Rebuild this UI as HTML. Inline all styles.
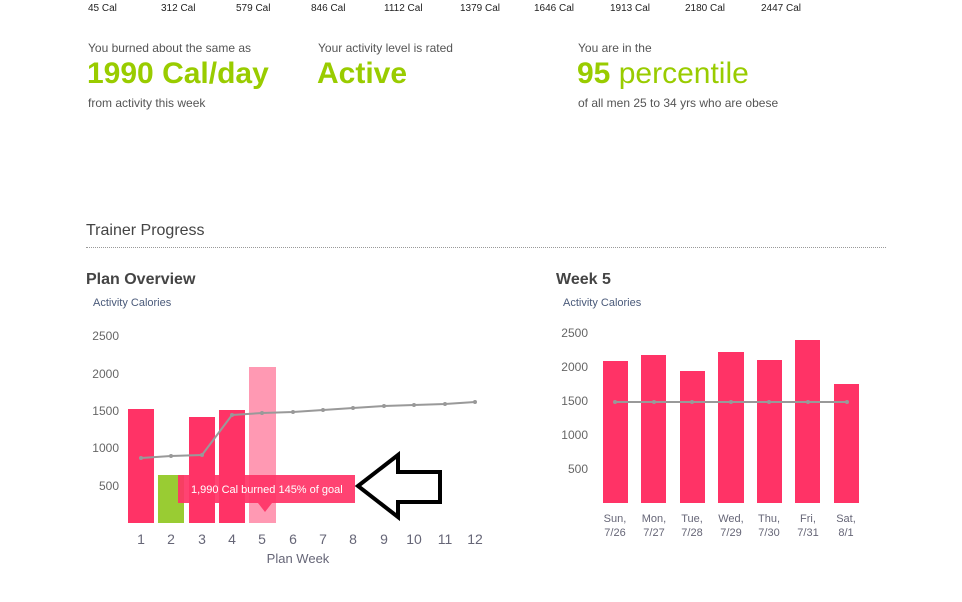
<!DOCTYPE html>
<html><head><meta charset="utf-8"><style>
body{margin:0;width:962px;height:602px;background:#fff;font-family:"Liberation Sans",Arial,sans-serif;position:relative;overflow:hidden}
.a{position:absolute;white-space:nowrap}
.s{font-size:12px;color:#555}
.big{font-size:30px;font-weight:bold;color:#99cc00}
.cal{font-size:10px;color:#222;top:3px}
</style></head><body>
<div class="a cal" style="left:88px">45 Cal</div>
<div class="a cal" style="left:161px">312 Cal</div>
<div class="a cal" style="left:236px">579 Cal</div>
<div class="a cal" style="left:311px">846 Cal</div>
<div class="a cal" style="left:384px">1112 Cal</div>
<div class="a cal" style="left:460px">1379 Cal</div>
<div class="a cal" style="left:534px">1646 Cal</div>
<div class="a cal" style="left:610px">1913 Cal</div>
<div class="a cal" style="left:685px">2180 Cal</div>
<div class="a cal" style="left:761px">2447 Cal</div>

<div class="a s" style="left:88px;top:41px">You burned about the same as</div>
<div class="a big" style="left:87px;top:57px">1990 Cal/day</div>
<div class="a s" style="left:88px;top:96px">from activity this week</div>
<div class="a s" style="left:318px;top:41px">Your activity level is rated</div>
<div class="a big" style="left:317px;top:57px">Active</div>
<div class="a s" style="left:578px;top:41px">You are in the</div>
<div class="a big" style="left:577px;top:57px">95 <span style="font-weight:normal">percentile</span></div>
<div class="a s" style="left:578px;top:96px">of all men 25 to 34 yrs who are obese</div>

<div class="a" style="left:86px;top:222px;font-size:16px;color:#444">Trainer Progress</div>
<div class="a" style="left:86px;top:247px;width:800px;border-top:1px dotted #999"></div>
<div class="a" style="left:86px;top:271px;font-size:16px;font-weight:bold;color:#444">Plan Overview</div>
<div class="a" style="left:93px;top:297px;font-size:11px;color:#4a5a7a">Activity Calories</div>
<div class="a" style="left:556px;top:271px;font-size:16px;font-weight:bold;color:#444">Week 5</div>
<div class="a" style="left:563px;top:297px;font-size:11px;color:#4a5a7a">Activity Calories</div>

<svg class="a" style="left:0;top:0" width="962" height="602" font-family="Liberation Sans,Arial,sans-serif">
<g font-size="12" fill="#666" text-anchor="end">
<text x="119" y="340">2500</text><text x="119" y="378">2000</text><text x="119" y="415">1500</text><text x="119" y="452">1000</text><text x="119" y="490">500</text>
<text x="588" y="337">2500</text><text x="588" y="371">2000</text><text x="588" y="405">1500</text><text x="588" y="439">1000</text><text x="588" y="473">500</text>
</g>
<rect x="128" y="409" width="26" height="114" fill="#ff3366"/>
<rect x="158" y="475" width="26" height="48" fill="#99cc33"/>
<rect x="189" y="417" width="26" height="106" fill="#ff3366"/>
<rect x="219" y="410" width="26" height="113" fill="#ff3366"/>
<rect x="249" y="367" width="27" height="156" fill="#ff99b3"/>
<polyline points="141,458 171,456 202,455 232,415 262,413 293,412 323,410 353,408 384,406 414,405 445,404 475,402" fill="none" stroke="#999" stroke-width="2"/>
<g fill="#999"><circle cx="141" cy="458" r="2"/><circle cx="171" cy="456" r="2"/><circle cx="202" cy="455" r="2"/><circle cx="232" cy="415" r="2"/><circle cx="262" cy="413" r="2"/><circle cx="293" cy="412" r="2"/><circle cx="323" cy="410" r="2"/><circle cx="353" cy="408" r="2"/><circle cx="384" cy="406" r="2"/><circle cx="414" cy="405" r="2"/><circle cx="445" cy="404" r="2"/><circle cx="475" cy="402" r="2"/></g>
<g font-size="14" fill="#667" text-anchor="middle">
<text x="141" y="544">1</text><text x="171" y="544">2</text><text x="202" y="544">3</text><text x="232" y="544">4</text><text x="262" y="544">5</text><text x="293" y="544">6</text><text x="323" y="544">7</text><text x="353" y="544">8</text><text x="384" y="544">9</text><text x="414" y="544">10</text><text x="445" y="544">11</text><text x="475" y="544">12</text>
<text x="298" y="563" font-size="13">Plan Week</text>
</g>
<path d="M178 475H355V503H272L265 512L258 503H178Z" fill="#ff3366" fill-opacity="0.92"/>
<text x="191" y="493" font-size="11" fill="#fff">1,990 Cal burned 145% of goal</text>
<path d="M358 486L398 455V472H440V502H398V517Z" fill="#fff" stroke="#000" stroke-width="4" stroke-linejoin="miter"/>

<g fill="#ff3366">
<rect x="603" y="361" width="25" height="142"/><rect x="641" y="355" width="25" height="148"/><rect x="680" y="371" width="25" height="132"/><rect x="718" y="352" width="26" height="151"/><rect x="757" y="360" width="25" height="143"/><rect x="795" y="340" width="25" height="163"/><rect x="834" y="384" width="25" height="119"/>
</g>
<line x1="615" y1="402" x2="847" y2="402" stroke="#999" stroke-width="2"/>
<g fill="#999"><circle cx="615" cy="402" r="2"/><circle cx="654" cy="402" r="2"/><circle cx="692" cy="402" r="2"/><circle cx="731" cy="402" r="2"/><circle cx="769" cy="402" r="2"/><circle cx="808" cy="402" r="2"/><circle cx="847" cy="402" r="2"/></g>
<g font-size="11" fill="#667" text-anchor="middle">
<text x="615" y="522">Sun,</text><text x="615" y="536">7/26</text>
<text x="654" y="522">Mon,</text><text x="654" y="536">7/27</text>
<text x="692" y="522">Tue,</text><text x="692" y="536">7/28</text>
<text x="731" y="522">Wed,</text><text x="731" y="536">7/29</text>
<text x="769" y="522">Thu,</text><text x="769" y="536">7/30</text>
<text x="808" y="522">Fri,</text><text x="808" y="536">7/31</text>
<text x="846" y="522">Sat,</text><text x="846" y="536">8/1</text>
</g>
</svg>
</body></html>
